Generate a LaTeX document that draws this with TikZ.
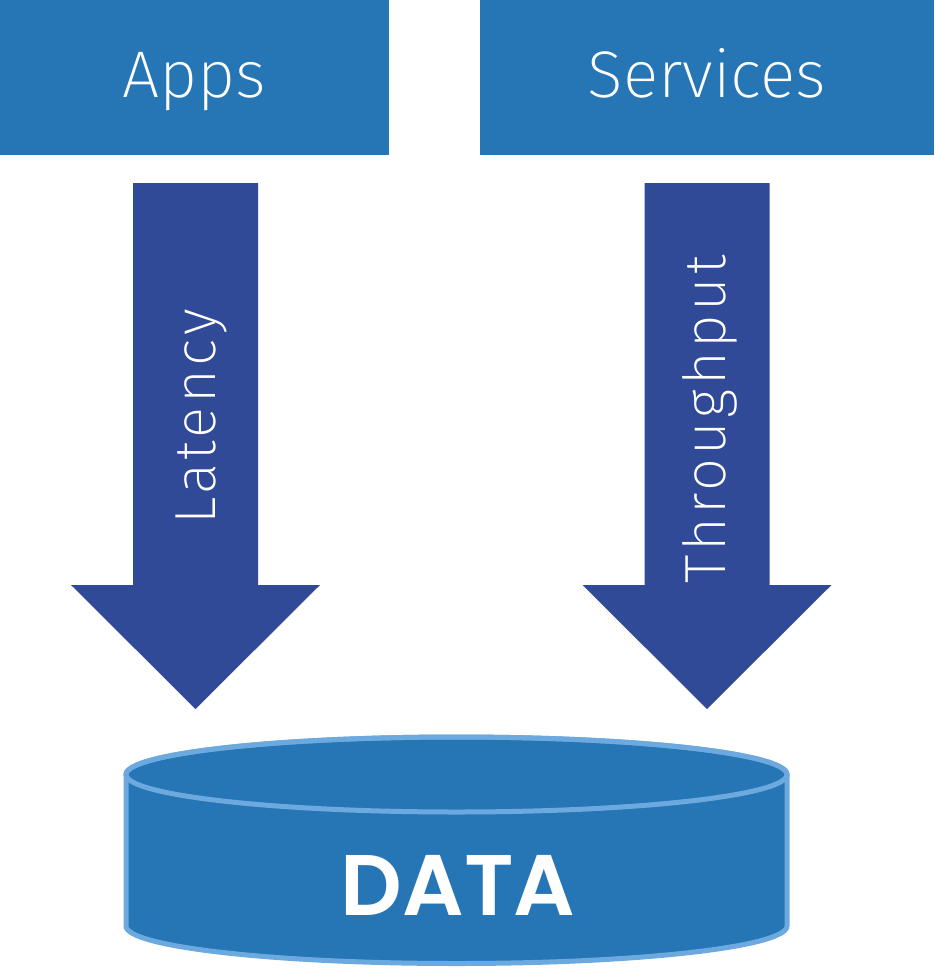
\documentclass[tikz,border=0pt]{standalone}
\usepackage{fontspec}
\setmainfont{Fira Sans ExtraLight}
\newfontfamily\datafont{Poppins SemiBold}
\definecolor{boxblue}{RGB}{38,118,182}
\definecolor{arrowblue}{RGB}{48,74,151}
\definecolor{rimblue}{RGB}{108,169,222}
\tikzset{
  topbox/.style={fill=boxblue, inner sep=0pt, outer sep=0pt},
  toptext/.style={text=white, inner sep=0pt, font=\fontsize{33}{40}\selectfont},
  flowarrow/.style={fill=arrowblue},
  flowtext/.style={text=white, inner sep=0pt, rotate=90, font=\fontsize{29}{34}\selectfont\addfontfeatures{LetterSpace=6}},
  datatext/.style={text=white, inner sep=0pt, font=\datafont\fontsize{43}{50}\selectfont}
}
\begin{document}
\begin{tikzpicture}[x=0.5pt, y=-0.5pt]
              \useasboundingbox (0,0) rectangle (934,980);
              % two source boxes
              \node[topbox, minimum width=194.5pt, minimum height=77.5pt] (apps) at (194.5,77.5) {};
              \node[topbox, minimum width=227pt, minimum height=77.5pt] (services) at (707,77.5) {};
              \node[toptext, anchor=base] (appstext) at (apps.center |- 0,97) {Apps};
              \node[toptext, anchor=base] (servicestext) at (services.center |- 0,97) {Services};
              % flow arrows
              \coordinate (L) at (195.5,183);
              \coordinate (R) at (707,183);
              \fill[flowarrow] (L) ++(-62.5,0) -- ++(0,402) -- ++(-62,0) -- (195.5,709)
                  -- (320,585) -- (258,585) -- (258,183) -- cycle;
              \fill[flowarrow] (R) ++(-62.5,0) -- ++(0,402) -- ++(-62,0) -- (707,709)
                  -- (831.5,585) -- (769.5,585) -- (769.5,183) -- cycle;
              \node[flowtext, anchor=base] (latency) at (215,417) {Latency};
              \node[flowtext, anchor=base] (throughput) at (725,419.5) {Throughput};
              % data store
              \coordinate (T) at (456.5,774.5);
              \coordinate (B) at (456.5,926);
              \filldraw[fill=boxblue, draw=rimblue, line width=2.5pt] (126,774.5) -- (126,926)
                  arc[start angle=180, end angle=360, x radius=165.25pt, y radius=18.75pt]
                  -- (787,774.5)
                  arc[start angle=0, end angle=180, x radius=165.25pt, y radius=18.75pt] -- cycle;
              \draw[rimblue, line width=2.5pt] (T) ellipse [x radius=165.25pt, y radius=18.75pt];
              \node[datatext, anchor=base] (data) at (458,915) {DATA};
        \end{tikzpicture}
\end{document}
